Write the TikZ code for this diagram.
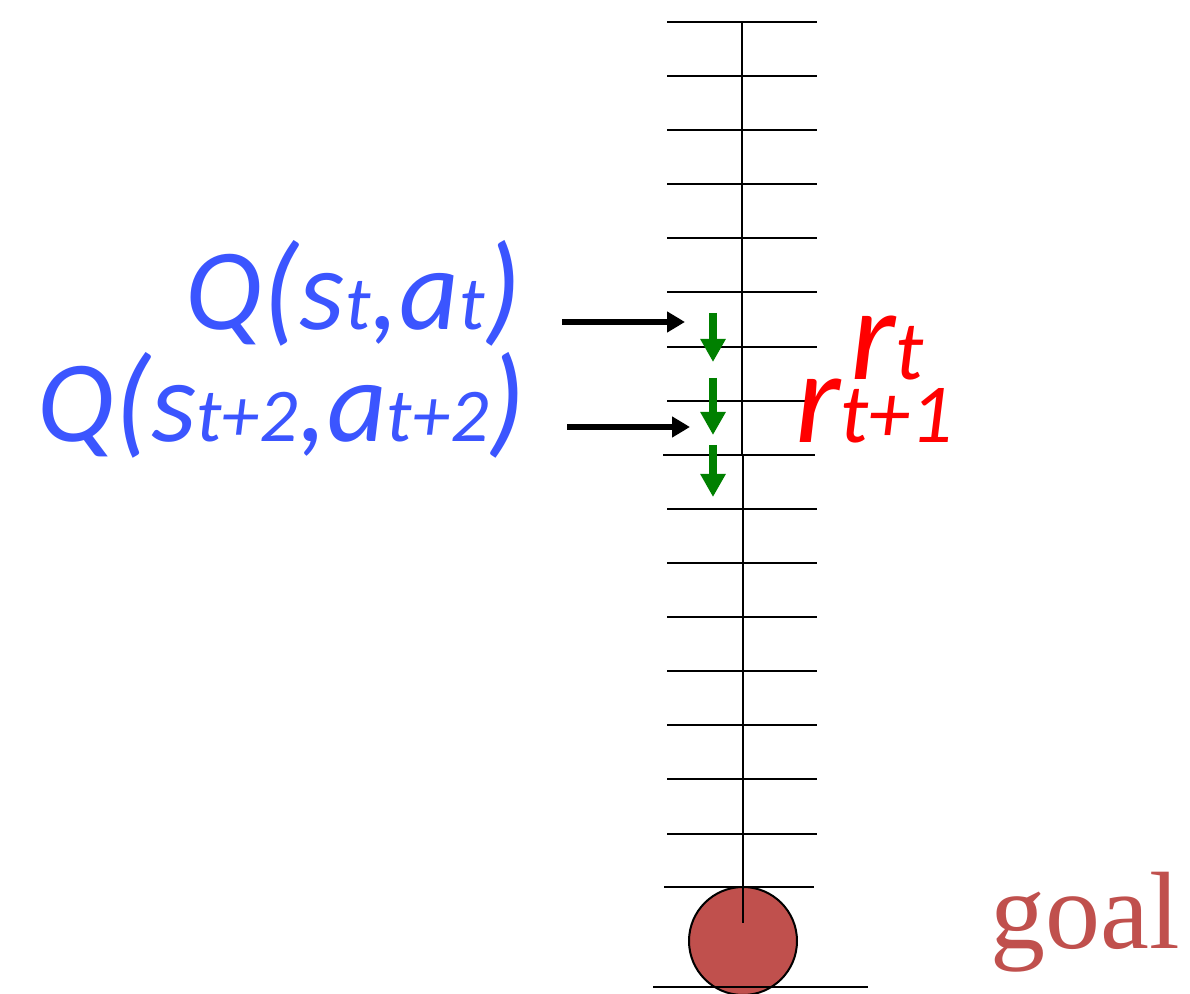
\documentclass[tikz,border=0pt]{standalone}
\usepackage{fontspec}
\setmainfont{Liberation Serif}
\newfontfamily\carlito{Carlito}
\usepackage{tikz}
\usetikzlibrary{arrows.meta, positioning}
\definecolor{qblue}{RGB}{59,85,255}
\definecolor{rred}{RGB}{255,0,0}
\definecolor{goalred}{RGB}{192,80,77}
\definecolor{stepgreen}{RGB}{0,128,0}
\newcommand{\qsub}[1]{{\fontsize{38}{40}\selectfont #1}}
\newcommand{\rsub}[1]{{\fontsize{42}{44}\selectfont #1}}
\newcommand{\bigp}[1]{{\fontsize{61}{63}\selectfont #1}}
\tikzset{
  tick/.style={line width=1pt, color=black},
  qlabel/.style={inner sep=0pt, anchor=base east, text=qblue,
    font=\carlito\itshape\fontsize{58}{60}\selectfont},
  rlabel/.style={inner sep=0pt, anchor=base west, text=rred,
    font=\carlito\itshape\fontsize{66}{70}\selectfont},
  pointer/.style={-{Triangle[length=9pt, width=10pt]}, line width=3pt, color=black},
  move/.style={-{Triangle[length=11.5pt, width=12pt]}, line width=4pt, color=stepgreen}
}

\begin{document}
\begin{tikzpicture}[x=0.5pt, y=-0.5pt]
  \useasboundingbox (0,0) rectangle (1190,994);

  % goal ball
  \draw[line width=1pt, fill=goalred] (743,941) circle[radius=27pt];

  % track with ticks
  \foreach \k in {0,...,7,9,10,...,15}
    \draw[tick] (667,{22+54.1*\k}) -- (817,{22+54.1*\k});
  \draw[tick] (663,455) -- (815,455);
  \draw[tick] (664,887) -- (814,887);
  \draw[tick] (653,987) -- (868,987);
  \draw[tick] (742,22) -- (742,455);
  \draw[tick] (743,455) -- (743,923);

  % Q labels
  \node[qlabel] (qsa) at (522,330) {Q\bigp{(}s\qsub{t},a\qsub{t}\bigp{)}};
  \node[qlabel] (qsa2) at (526,442) {Q\bigp{(}s\qsub{t+2},a\qsub{t+2}\bigp{)}};

  \coordinate (p1s) at (562,322);
  \coordinate (p1e) at (685,322);
  \coordinate (p2s) at (567,427);
  \coordinate (p2e) at (690,427);
  \draw[pointer] (p1s) -- (p1e);
  \draw[pointer] (p2s) -- (p2e);

  % steps
  \coordinate (m1s) at (713,313);
  \coordinate (m1e) at (713,362);
  \coordinate (m2s) at (713,378);
  \coordinate (m2e) at (713,435);
  \coordinate (m3s) at (713,445);
  \coordinate (m3e) at (713,497);
  \draw[move] (m1s) -- (m1e);
  \draw[move] (m2s) -- (m2e);
  \draw[move] (m3s) -- (m3e);

  % rewards
  \node[rlabel] (rt) at (850,380) {r\rsub{t}};
  \node[rlabel] (rt1) at (795,443) {r\rsub{t+1}};

  \node[inner sep=0pt, anchor=base west, text=goalred,
    font=\fontsize{55}{60}\selectfont] (goal) at (990,948) {goal};
\end{tikzpicture}
\end{document}
